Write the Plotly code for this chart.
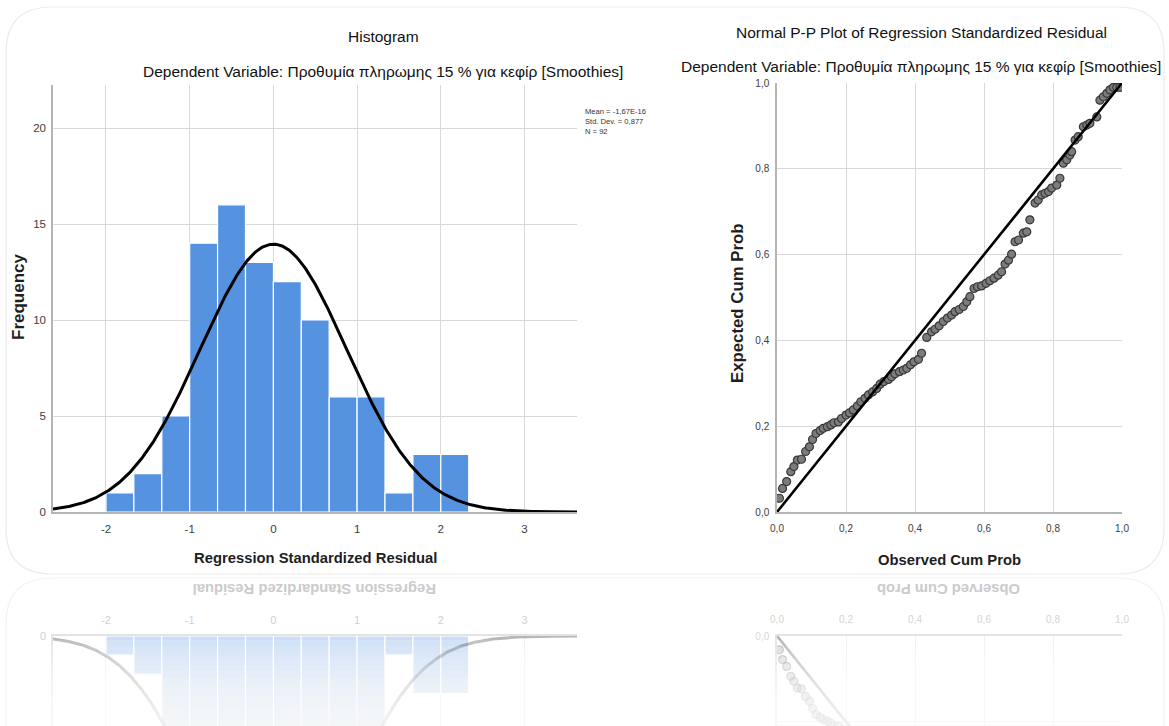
import numpy as np
import plotly.graph_objects as go

W, H = 1169, 726
FONT = "Liberation Sans, Arial, sans-serif"

# ---- Histogram of standardized residuals ----
bin_lower = [-2.0, -1.667, -1.333, -1.0, -0.667, -0.333, 0.0, 0.333, 0.667, 1.0, 1.333, 1.667, 2.0]
bin_counts = [1, 2, 5, 14, 16, 13, 12, 10, 6, 6, 1, 3, 3]
bin_width = 1 / 3
resid_mean = -1.67e-16
resid_sd = 0.877
n_obs = 92
hist_xticks = [-2, -1, 0, 1, 2, 3]
hist_yticks = [0, 5, 10, 15, 20]

# ---- Normal P-P plot ----
observed_cum = [0.007, 0.016, 0.028, 0.040, 0.049, 0.059, 0.071, 0.083, 0.094, 0.103,
                0.113, 0.125, 0.134, 0.146, 0.156, 0.165, 0.178, 0.187, 0.200, 0.210,
                0.221, 0.233, 0.243, 0.255, 0.265, 0.277, 0.289, 0.299, 0.310, 0.323,
                0.332, 0.342, 0.355, 0.366, 0.376, 0.387, 0.397, 0.410, 0.419,
                0.434, 0.448, 0.458, 0.470, 0.482, 0.494, 0.506, 0.516, 0.528, 0.540,
                0.550, 0.559, 0.571, 0.581, 0.593, 0.606, 0.617, 0.629, 0.641, 0.651,
                0.661, 0.671, 0.680,
                0.690, 0.700, 0.714, 0.724, 0.733, 0.748, 0.757, 0.767, 0.777, 0.787,
                0.796, 0.811, 0.820, 0.830, 0.840, 0.849, 0.854, 0.864, 0.873, 0.888,
                0.898, 0.907, 0.927, 0.936, 0.946, 0.956, 0.965, 0.975, 0.985, 0.994]
expected_cum = [0.032, 0.055, 0.071, 0.094, 0.106, 0.121, 0.123, 0.141, 0.152, 0.169,
                0.183, 0.190, 0.195, 0.199, 0.203, 0.208, 0.210, 0.218, 0.226, 0.231,
                0.238, 0.247, 0.257, 0.265, 0.273, 0.280, 0.288, 0.298, 0.304, 0.309,
                0.315, 0.322, 0.327, 0.331, 0.335, 0.343, 0.350, 0.356, 0.370,
                0.407, 0.420, 0.426, 0.434, 0.444, 0.452, 0.459, 0.467, 0.472, 0.479,
                0.490, 0.502, 0.521, 0.525, 0.527, 0.533, 0.539, 0.545, 0.552, 0.560,
                0.578, 0.587, 0.601,
                0.630, 0.634, 0.650, 0.653, 0.681, 0.720, 0.727, 0.739, 0.743, 0.747,
                0.755, 0.762, 0.778, 0.813, 0.821, 0.832, 0.840, 0.867, 0.875, 0.898,
                0.902, 0.906, 0.921, 0.960, 0.968, 0.976, 0.984, 0.990, 0.990, 0.990]
pp_ticks = [0.0, 0.2, 0.4, 0.6, 0.8, 1.0]
pp_ticktext = ["0,0", "0,2", "0,4", "0,6", "0,8", "1,0"]

subtitle = "Dependent Variable: Προθυμία πληρωμης 15 % για κεφίρ [Smoothies]"


def px(x):
    return x / W


def py(y):
    return 1 - y / H


BLUE = "#5593e0"
GRID = "#d8d8d8"
AXLINE = "#b4b4b4"
TICKCOL = "#3c3c3c"

hist_range = [-2.633, 3.627]
hist_top = 22.24

# normal curve scaled to counts
xs = np.linspace(hist_range[0], hist_range[1], 500)
curve = n_obs * bin_width / (resid_sd * np.sqrt(2 * np.pi)) * np.exp(-0.5 * ((xs - resid_mean) / resid_sd) ** 2)

fig = go.Figure()

# main histogram
fig.add_trace(go.Bar(x=bin_lower, y=bin_counts, width=[bin_width] * len(bin_counts), offset=0,
                     marker=dict(color=BLUE, line=dict(color="white", width=1.2)),
                     xaxis="x", yaxis="y", hoverinfo="skip"))
fig.add_trace(go.Scatter(x=xs, y=curve, mode="lines", line=dict(color="black", width=3),
                         xaxis="x", yaxis="y", hoverinfo="skip"))

# main P-P plot
fig.add_trace(go.Scatter(x=observed_cum, y=expected_cum, mode="markers",
                         marker=dict(size=8, color="#7c7c7c", line=dict(color="#383838", width=1.2)),
                         xaxis="x2", yaxis="y2", hoverinfo="skip"))
fig.add_trace(go.Scatter(x=[0, 1], y=[0, 1], mode="lines", line=dict(color="black", width=2.6),
                         xaxis="x2", yaxis="y2", hoverinfo="skip"))

# mirrored (reflection) copies
fig.add_trace(go.Bar(x=bin_lower, y=bin_counts, width=[bin_width] * len(bin_counts), offset=0,
                     marker=dict(color="rgba(85,147,224,0.30)", line=dict(color="white", width=1.2)),
                     xaxis="x3", yaxis="y3", hoverinfo="skip"))
fig.add_trace(go.Scatter(x=xs, y=curve, mode="lines", line=dict(color="rgba(0,0,0,0.28)", width=3),
                         xaxis="x3", yaxis="y3", hoverinfo="skip"))
fig.add_trace(go.Scatter(x=observed_cum, y=expected_cum, mode="markers",
                         marker=dict(size=8, color="rgba(124,124,124,0.28)", line=dict(color="rgba(56,56,56,0.28)", width=1.2)),
                         xaxis="x4", yaxis="y4", hoverinfo="skip"))
fig.add_trace(go.Scatter(x=[0, 1], y=[0, 1], mode="lines", line=dict(color="rgba(0,0,0,0.3)", width=2.6),
                         xaxis="x4", yaxis="y4", hoverinfo="skip"))

common_axis = dict(showgrid=True, gridcolor=GRID, gridwidth=1.3, zeroline=False, automargin=False,
                   showline=True, linecolor=AXLINE, linewidth=1.5, ticks="", fixedrange=True)
faint_axis = dict(showgrid=True, gridcolor="#f1f1f1", gridwidth=1.3, zeroline=False, automargin=False,
                  showline=True, linecolor="#e3e3e3", linewidth=1.5, ticks="", fixedrange=True)

fig.update_layout(
    width=W, height=H, margin=dict(l=0, r=0, t=0, b=0, autoexpand=False),
    paper_bgcolor="white", plot_bgcolor="rgba(0,0,0,0)", showlegend=False,
    font=dict(family=FONT, color="#222"),
    xaxis=dict(domain=[px(53), px(577)], range=hist_range, tickvals=hist_xticks,
               ticktext=[str(v) for v in hist_xticks], anchor="y",
               tickfont=dict(size=11.5, color=TICKCOL), ticklabelstandoff=5, **common_axis),
    yaxis=dict(domain=[py(512), py(85)], range=[0, hist_top], tickvals=hist_yticks,
               ticktext=[str(v) for v in hist_yticks], anchor="x",
               tickfont=dict(size=11.5, color=TICKCOL), ticklabelstandoff=3, **common_axis),
    xaxis2=dict(domain=[px(777), px(1122)], range=[0, 1], tickvals=pp_ticks, ticktext=pp_ticktext,
                anchor="y2", tickfont=dict(size=10, color=TICKCOL), ticklabelstandoff=6, **common_axis),
    yaxis2=dict(domain=[py(512), py(83)], range=[0, 1], tickvals=pp_ticks, ticktext=pp_ticktext,
                anchor="x2", tickfont=dict(size=10, color=TICKCOL), ticklabelstandoff=4, **common_axis),
    xaxis3=dict(domain=[px(53), px(577)], range=hist_range, tickvals=hist_xticks,
                ticktext=[str(v) for v in hist_xticks], anchor="y3", side="top",
                tickfont=dict(size=11, color="#d0d0d0"), ticklabelstandoff=6, **faint_axis),
    yaxis3=dict(domain=[0, py(636)], range=[90 / 19.2, 0], tickvals=[0], ticktext=["0"], anchor="x3",
                tickfont=dict(size=11, color="#d0d0d0"), ticklabelstandoff=3, **faint_axis),
    xaxis4=dict(domain=[px(777), px(1122)], range=[0, 1], tickvals=pp_ticks, ticktext=pp_ticktext,
                anchor="y4", side="top", tickfont=dict(size=10, color="#d3d3d3"), ticklabelstandoff=7,
                **faint_axis),
    yaxis4=dict(domain=[0, py(636)], range=[90 / 429, 0], tickvals=[0, 0.2], ticktext=["0,0", "0,2"],
                anchor="x4", tickfont=dict(size=10, color="#d8d8d8"), ticklabelstandoff=4, **faint_axis),
)


def rounded_path(x0, y0, x1, y1, r, open_bottom=False):
    pts = []
    if open_bottom:
        pts.append(f"M {px(x0)},{py(y1)} L {px(x0)},{py(y0 + r)}")
    else:
        pts.append(f"M {px(x0)},{py(y1 - r)} L {px(x0)},{py(y0 + r)}")
    pts.append(f"Q {px(x0)},{py(y0)} {px(x0 + r)},{py(y0)}")
    pts.append(f"L {px(x1 - r)},{py(y0)} Q {px(x1)},{py(y0)} {px(x1)},{py(y0 + r)}")
    if open_bottom:
        pts.append(f"L {px(x1)},{py(y1)}")
    else:
        pts.append(f"L {px(x1)},{py(y1 - r)} Q {px(x1)},{py(y1)} {px(x1 - r)},{py(y1)}")
        pts.append(f"L {px(x0 + r)},{py(y1)} Q {px(x0)},{py(y1)} {px(x0)},{py(y1 - r)} Z")
    return " ".join(pts)


shapes = [
    dict(type="path", xref="paper", yref="paper", path=rounded_path(6, 7, 1164, 574, 46),
         line=dict(color="#ebebeb", width=1.2), fillcolor="rgba(0,0,0,0)", layer="below"),
    dict(type="path", xref="paper", yref="paper", path=rounded_path(6, 578, 1164, 726, 46, open_bottom=True),
         line=dict(color="#f2f2f2", width=1.2), fillcolor="rgba(0,0,0,0)", layer="below"),
]
# fade-out of the reflection toward the bottom edge
for k in range(14):
    y_top = 640 + k * 6.2
    shapes.append(dict(type="rect", xref="paper", yref="paper", x0=0, x1=1, y0=0, y1=py(y_top),
                       fillcolor="white", opacity=0.12, line=dict(width=0), layer="above"))
fig.update_layout(shapes=shapes)


def label(text, x, y, size, bold=False, angle=0, color="#1e1e1e", xanchor="center"):
    t = f"<b>{text}</b>" if bold else text
    return dict(text=t, x=px(x), y=py(y), xref="paper", yref="paper", showarrow=False,
                xanchor=xanchor, yanchor="middle", textangle=angle, align="left",
                font=dict(family=FONT, size=size, color=color))


def decimal_comma(value, fmt):
    return format(value, fmt).replace(".", ",")


stats_text = "<br>".join([
    "Mean = " + decimal_comma(resid_mean, ".2E"),
    "Std. Dev. = " + decimal_comma(resid_sd, ".3f"),
    f"N = {n_obs}",
])

annotations = [
    label("Histogram", 383, 36, 15.5, color="#111"),
    label(subtitle, 383, 71, 15.5, color="#111"),
    label("Normal P-P Plot of Regression Standardized Residual", 921, 33, 15.5, color="#111"),
    label(subtitle, 921, 66, 15.5, color="#111"),
    label("Frequency", 18, 297, 17, bold=True, angle=-90),
    label("Regression Standardized Residual", 315, 558, 14.8, bold=True),
    label("Expected Cum Prob", 737, 304, 16.8, bold=True, angle=-90),
    label("Observed Cum Prob", 949, 560, 14.8, bold=True),
    label(stats_text, 583, 121.5, 7.6, color="#333", xanchor="left"),
    # reflected axis titles
    label("Regression Standardized Residual", 315, 589, 14.8, bold=True, angle=180, color="#cbcbcb"),
    label("Observed Cum Prob", 949, 589, 14.8, bold=True, angle=180, color="#cbcbcb"),
]
fig.update_layout(annotations=annotations)

fig.write_html("out.html")
